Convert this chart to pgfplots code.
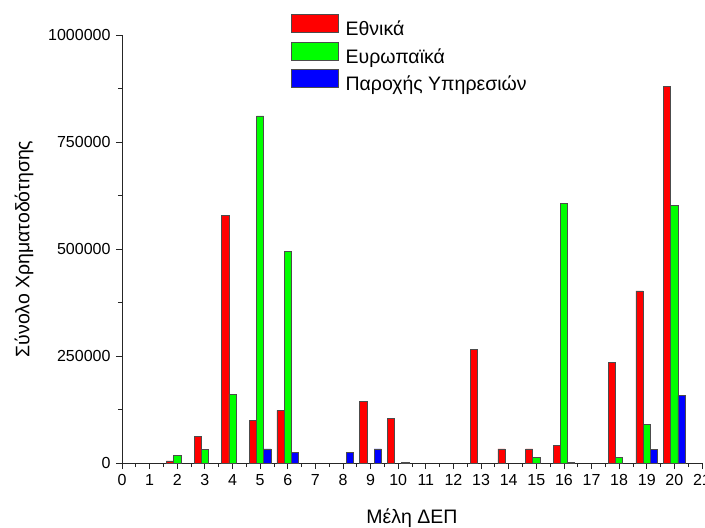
\documentclass[border=0pt]{standalone}
\usepackage{fontspec}
\setmainfont{Liberation Sans}
\usepackage{pgfplots}
\pgfplotsset{compat=1.18}
\pgfplotstableread{
x y
2 5000
3 62000
4 578000
5 99000
6 123000
9 144000
10 105000
13 266000
14 33000
15 33000
16 41000
18 235000
19 402000
20 880000
}\nat
\pgfplotstableread{
x y
2 17000
3 31000
4 161000
5 811000
6 495000
15 13000
16 607000
18 13000
19 91000
20 602000
}\eur
\pgfplotstableread{
x y
5 33000
6 25000
8 25000
9 33000
10 1500
16 1500
19 31000
20 158000
}\serv
\begin{document}
\fontsize{16}{19}\selectfont
\begin{tikzpicture}
\begin{axis}[
  scale only axis, width=580pt, height=428pt,
  xmin=0, xmax=21, ymin=0, ymax=1000000,
  axis lines=left,
  axis line style={-, line width=0.8pt, black!85},
  xtick={0,...,21}, minor x tick num=1,
  ytick={0,250000,500000,750000,1000000}, minor y tick num=1,
  tick align=outside, tick pos=left,
  major tick length=6pt, minor tick length=4pt,
  tick style={line width=0.8pt, black!85},
  scaled y ticks=false,
  /pgf/number format/assume math mode=true,
  yticklabel style={/pgf/number format/fixed, /pgf/number format/1000 sep={}},
  tick label style={font=\fontsize{16}{19}\selectfont},
  xlabel={Μέλη ΔΕΠ},
  ylabel={Σύνολο Χρηματοδότησης},
  every axis x label/.style={at={(axis description cs:0.5,-0.128)}, anchor=center},
  every axis y label/.style={at={(axis description cs:-0.169,0.5)}, rotate=90, anchor=center},
  label style={font=\fontsize{19.5}{23}\selectfont},
  ybar, bar width=0.26,
  legend style={draw=none, fill=none, at={(0.291,1.049)}, anchor=north west,
    inner sep=0pt, row sep=1.5pt, cells={anchor=west}, font=\fontsize{19.5}{23}\selectfont},
  legend image code/.code={\draw[#1,line width=0.6pt] (0pt,-3pt) rectangle (47pt,15pt); \path (52pt,0pt);},
  clip=false,
]
\coordinate (O) at (rel axis cs:0,0);
\addplot[fill={rgb,255:red,255;green,0;blue,0}, draw=black!70, line width=0.6pt, bar shift=-0.26] table[x=x,y=y] {\nat};
\addplot[fill={rgb,255:red,0;green,255;blue,0}, draw=black!70, line width=0.6pt, bar shift=0] table[x=x,y=y] {\eur};
\addplot[fill={rgb,255:red,0;green,0;blue,255}, draw=black!70, line width=0.6pt, bar shift=0.26] table[x=x,y=y] {\serv};
\legend{Εθνικά, Ευρωπαϊκά, Παροχής Υπηρεσιών}
\end{axis}
\pgfresetboundingbox
\useasboundingbox ([shift={(-122pt,-65pt)}]O) rectangle ([shift={(583pt,463pt)}]O);
\end{tikzpicture}
\end{document}
